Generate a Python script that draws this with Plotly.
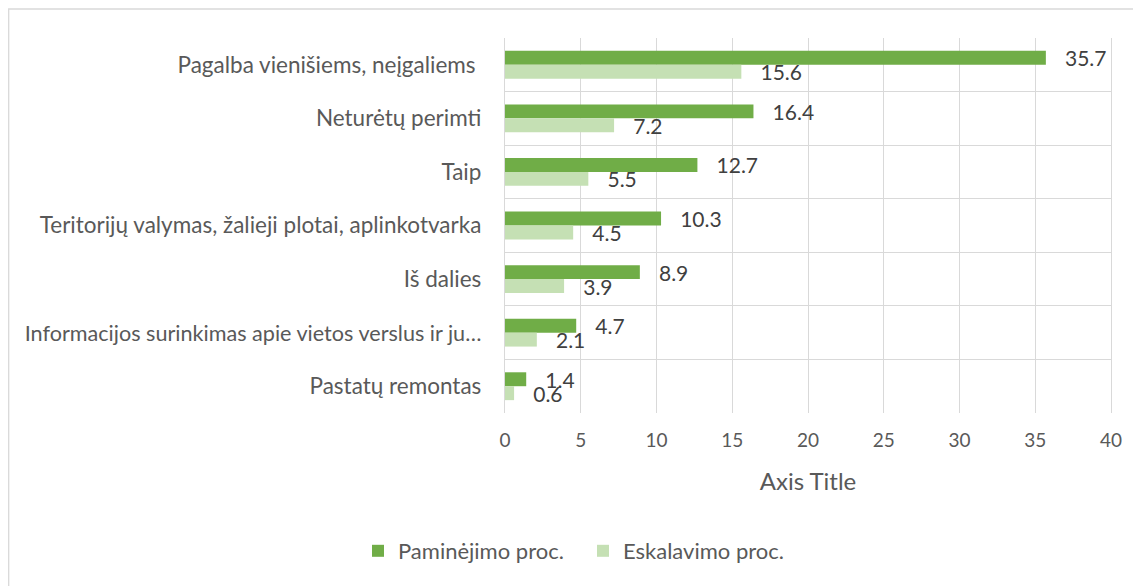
import plotly.graph_objects as go

categories = [
    "Pagalba vienišiems, neįgaliems\u00a0",
    "Neturėtų perimti",
    "Taip",
    "Teritorijų valymas, žalieji plotai, aplinkotvarka",
    "Iš dalies",
    "Informacijos surinkimas apie vietos verslus ir ju…",
    "Pastatų remontas",
]
paminejimo = [35.7, 16.4, 12.7, 10.3, 8.9, 4.7, 1.4]
eskalavimo = [15.6, 7.2, 5.5, 4.5, 3.9, 2.1, 0.6]
series_names = ["Paminėjimo proc.", "Eskalavimo proc."]
x_ticks = [0, 5, 10, 15, 20, 25, 30, 35, 40]

FONT = "Lato"
TXT = "#595959"
LBL = "#404040"

# the long truncated label is drawn slightly smaller so it fits like in the reference
tick_text = [
    f'<span style="font-size:21.6px">{c}</span>' if c.startswith("Informacijos") else c
    for c in categories
]

fig = go.Figure()
for name, vals, col in [(series_names[0], paminejimo, "#70ad47"),
                        (series_names[1], eskalavimo, "#c5e0b4")]:
    fig.add_trace(go.Bar(
        y=categories, x=vals, orientation="h", name=name,
        marker=dict(color=col, line=dict(width=0)),
        texttemplate="\u00a0\u00a0\u00a0%{x}", textposition="outside",
        constraintext="none",
        textfont=dict(family=FONT, size=21, color=LBL), cliponaxis=False,
    ))

# page body adds an 8px offset; plot area spans 606 x 375 px
L, T = 497, 30
PW, PH = 606, 375
fig.update_layout(
    width=1141, height=586,
    margin=dict(l=L, r=1141 - L - PW, t=T, b=586 - T - PH, autoexpand=False),
    paper_bgcolor="white", plot_bgcolor="white",
    barmode="group", bargap=0.48, bargroupgap=0,
    font=dict(family=FONT, color=TXT, size=18),
    showlegend=True,
    legend=dict(orientation="h", x=(-139 - 8) / PW, xanchor="left", y=-138 / PH, yanchor="middle",
                font=dict(family=FONT, size=22, color=TXT), entrywidth=180,
                traceorder="normal"),
    xaxis=dict(range=[0, 40], tickvals=x_ticks, showgrid=True, gridcolor="#d9d9d9",
               gridwidth=1.3, zeroline=False, showline=False,
               ticklabelstandoff=14,
               tickfont=dict(family=FONT, size=19, color=TXT),
               title=dict(text="Axis Title", font=dict(family=FONT, size=24, color=TXT), standoff=23)),
    yaxis=dict(autorange="reversed", tickson="boundaries", showgrid=True, gridcolor="#d9d9d9",
               gridwidth=1.3, showline=True, linecolor="#d9d9d9", linewidth=1.3, mirror=True,
               ticks="", ticklabelstandoff=18,
               tickmode="array", tickvals=categories, ticktext=tick_text,
               tickfont=dict(family=FONT, size=22.5, color=TXT)),
    shapes=[dict(type="rect", xref="paper", yref="paper",
                 x0=(0.7 - L) / PW, x1=(1141 - L) / PW, y0=-(586 - T - PH) / PH - 0.01,
                 y1=1 + (T - 1) / PH,
                 line=dict(color="#d9d9d9", width=1.3), fillcolor="rgba(0,0,0,0)", layer="below")],
)

fig.write_html("out.html")
